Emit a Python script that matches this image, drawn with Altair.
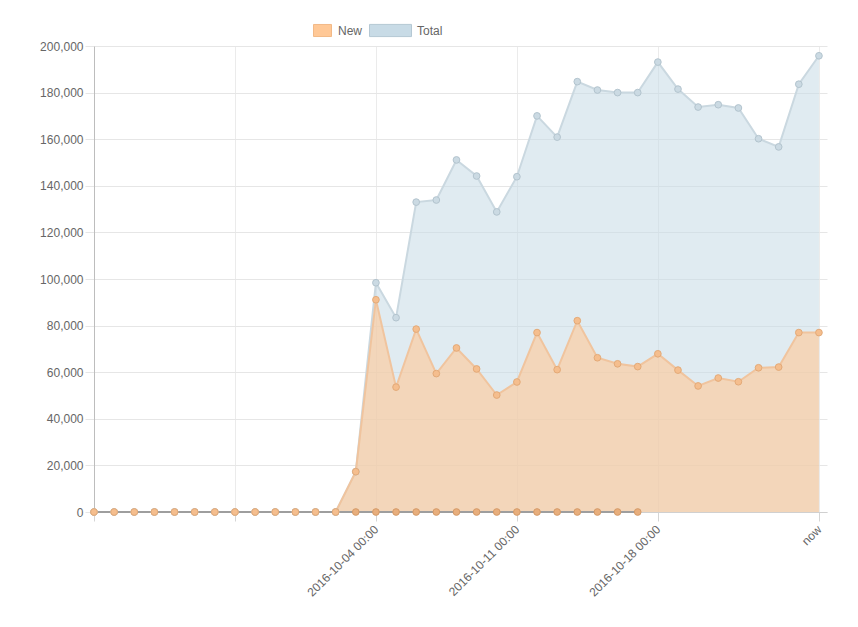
import altair as alt
import pandas as pd

# day index 0 = 2016-09-20 ... 36 = "now"
days = list(range(37))
new_vals = [0, 0, 0, 0, 0, 0, 0, 0, 0, 0, 0, 0, 0,
            17300, 91100, 53600, 78500, 59400, 70400, 61400, 50200, 55800,
            77000, 61100, 82100, 66200, 63600, 62400, 67900, 60900, 54100,
            57500, 55900, 61900, 62200, 77000, 77000]
total_vals = [0, 0, 0, 0, 0, 0, 0, 0, 0, 0, 0, 0, 0,
              17300, 98400, 83400, 133000, 133900, 151100, 144200, 128800, 143900,
              170000, 160900, 184700, 181100, 180000, 180000, 193100, 181500, 173800,
              174800, 173400, 160200, 156700, 183600, 195800]
zero_days = list(range(28))
zero_vals = [0, 0, 0, 0, 0, 0, 0, 0, 0, 0, 0, 0, 0, 0,
             0, 0, 0, 0, 0, 0, 0, 0, 0, 0, 0, 0, 0, 0]
tick_days = [0, 7, 14, 21, 28, 36]
tick_labels = ["", "", "2016-10-04 00:00", "2016-10-11 00:00", "2016-10-18 00:00", "now"]
y_ticks = [0, 20000, 40000, 60000, 80000, 100000, 120000, 140000, 160000, 180000, 200000]

df_new = pd.DataFrame({"day": days, "value": new_vals, "series": "New"})
df_total = pd.DataFrame({"day": days, "value": total_vals, "series": "Total"})
df_zero = pd.DataFrame({"day": zero_days, "value": zero_vals})

label_expr = "''"
for d, lab in zip(tick_days, tick_labels):
    label_expr = f"datum.value == {d} ? '{lab}' : ({label_expr})"

FONT = "Liberation Sans"
TXT = "#666666"

x = alt.X("day:Q",
          scale=alt.Scale(domain=[0, 36.4], nice=False, zero=False),
          axis=alt.Axis(values=tick_days, labelExpr=label_expr, labelAngle=-45,
                        labelAlign="right", labelBaseline="middle", title=None,
                        grid=True, gridColor="#EBEBEB", tickColor="#D5D5D5",
                        tickSize=9, labelPadding=6, domainColor="#D0D0D0",
                        labelFont=FONT, labelFontSize=12, labelColor=TXT,
                        labelOverlap=False, labelBound=False, labelFlush=False))
y = alt.Y("value:Q",
          scale=alt.Scale(domain=[0, 200000], nice=False),
          axis=alt.Axis(values=y_ticks, format=",d", title=None, grid=True,
                        gridColor="#E6E6E6", tickColor="#E6E6E6", tickSize=9,
                        labelPadding=2, domainColor="#BDBDBD",
                        labelFont=FONT, labelFontSize=12, labelColor=TXT))

total_area = alt.Chart(df_total).mark_area(fillOpacity=0.56).encode(
    x=x, y=y,
    color=alt.Color("series:N",
                    scale=alt.Scale(domain=["Total"], range=["#C8DBE6"]),
                    legend=alt.Legend(orient="none", legendX=275, legendY=-37, title=None,
                                      symbolType="M-1,-0.29H1V0.29H-1Z", symbolSize=1764,
                                      symbolStrokeColor="#B5C8D4", symbolStrokeWidth=1,
                                      symbolOpacity=1, labelFont=FONT, labelFontSize=12,
                                      labelColor=TXT, labelOffset=5, padding=0)))
new_area = alt.Chart(df_new).mark_area(fillOpacity=0.6).encode(
    x=x, y=y,
    color=alt.Color("series:N",
                    scale=alt.Scale(domain=["New"], range=["#FFC896"]),
                    legend=alt.Legend(orient="none", legendX=219, legendY=-25, title=None,
                                      symbolType="M-1,-0.67H1V0.67H-1Z", symbolSize=324,
                                      symbolStrokeColor="#F2B987", symbolStrokeWidth=1,
                                      symbolOpacity=1, labelFont=FONT, labelFontSize=12,
                                      labelColor=TXT, labelOffset=6, padding=0)))

total_line = alt.Chart(df_total).mark_line(color="#CAD8E0", strokeWidth=2).encode(x=x, y=y)
new_line = alt.Chart(df_new).mark_line(color="#F0C49E", strokeWidth=2).encode(x=x, y=y)
zero_line = alt.Chart(df_zero).mark_line(color="#9E9E9E", strokeWidth=2).encode(x=x, y=y)

zero_pts = alt.Chart(df_zero).mark_point(filled=True, size=45, fill="#E8AE7C", stroke="#D49A68",
                                         strokeWidth=1, opacity=1).encode(x=x, y=y)
total_pts = alt.Chart(df_total).mark_point(filled=True, size=45, fill="#CBDAE3", stroke="#B3C4CE",
                                           strokeWidth=1, opacity=1).encode(x=x, y=y)
new_pts = alt.Chart(df_new).mark_point(filled=True, size=45, fill="#F5BE8E", stroke="#E3AA78",
                                       strokeWidth=1, opacity=1).encode(x=x, y=y)

chart = alt.layer(
    total_area, total_line, new_area, new_line, zero_line, zero_pts, total_pts, new_pts
).resolve_scale(color="independent").properties(
    width=733, height=466,
    autosize=alt.AutoSizeParams(type="none"),
    padding={"left": 86, "top": 38, "right": 23, "bottom": 100},
).configure_view(stroke=None)

chart.save("out.html", embed_options={"renderer": "svg", "actions": False})
